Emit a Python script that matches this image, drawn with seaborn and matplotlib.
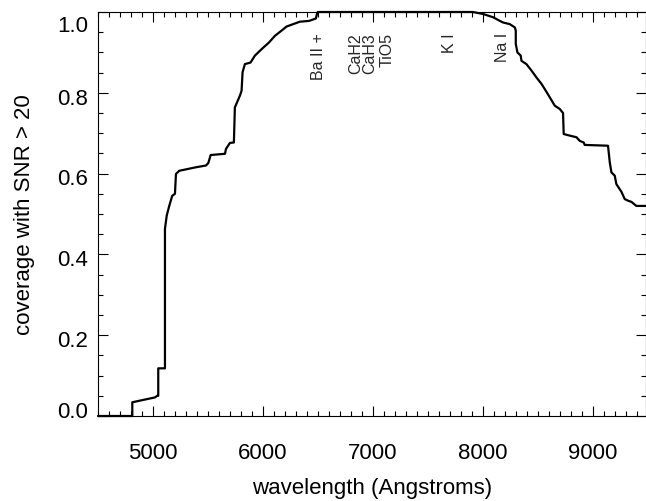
import matplotlib
matplotlib.use("Agg")
import matplotlib.pyplot as plt
import matplotlib.transforms as mtransforms
from matplotlib.ticker import MultipleLocator
import pandas as pd
import seaborn as sns

# coverage curve (repeated x = vertical step)
wavelength = [4500, 4812, 4812, 5018, 5039, 5048, 5048, 5109, 5109, 5125,
              5148, 5175, 5200, 5209, 5239, 5397, 5482, 5503, 5525, 5655,
              5664, 5700, 5736, 5745, 5761, 5791, 5806, 5815, 5836, 5888,
              5927, 5988, 6057, 6109, 6170, 6215, 6336, 6421, 6482, 6494,
              6500, 7909, 8003, 8094, 8155, 8185, 8245, 8291, 8300, 8300,
              8315, 8345, 8352, 8397, 8443, 8488, 8534, 8564, 8609, 8655,
              8700, 8730, 8736, 8791, 8852, 8882, 8918, 8927, 9139, 9155,
              9170, 9200, 9215, 9261, 9291, 9321, 9352, 9397, 9480]
coverage = [0.0, 0.0, 0.034, 0.046, 0.050, 0.050, 0.118, 0.118, 0.463, 0.496,
            0.520, 0.545, 0.550, 0.599, 0.607, 0.616, 0.620, 0.626, 0.646, 0.649,
            0.661, 0.676, 0.677, 0.764, 0.774, 0.793, 0.805, 0.851, 0.871, 0.875,
            0.892, 0.908, 0.925, 0.941, 0.954, 0.964, 0.976, 0.978, 0.984, 0.998,
            1.0, 1.0, 0.995, 0.987, 0.978, 0.974, 0.970, 0.962, 0.954, 0.921,
            0.900, 0.892, 0.879, 0.871, 0.855, 0.838, 0.822, 0.809, 0.789, 0.768,
            0.760, 0.750, 0.698, 0.694, 0.690, 0.681, 0.677, 0.671, 0.669, 0.628,
            0.603, 0.595, 0.574, 0.555, 0.537, 0.533, 0.530, 0.520, 0.520]

# spectral features marked along the top
feature_names = ["Ba II +", "CaH2", "CaH3", "TiO5", "K I", "Na I"]
feature_waves = [6510, 6845, 6972, 7128, 7697, 8183]

sns.set_theme(style="ticks")
plt.rcParams["font.family"] = ["Liberation Sans", "DejaVu Sans"]

df = pd.DataFrame({"wavelength": wavelength, "coverage": coverage})

fig = plt.figure(figsize=(6.46, 5.02), dpi=100)
ax = fig.add_axes([98 / 646, 85 / 502, 547.5 / 646, 404 / 502])

sns.lineplot(data=df, x="wavelength", y="coverage", ax=ax, sort=False,
             estimator=None, color="black", linewidth=1.6, clip_on=False)

for name, w in zip(feature_names, feature_waves):
    ax.text(w, 0.95, name, rotation=90, ha="center", va="top", fontsize=11.5)

ax.set_xlim(4500, 9480)
ax.set_ylim(0, 1.0)
ax.xaxis.set_major_locator(MultipleLocator(1000))
ax.xaxis.set_minor_locator(MultipleLocator(100))
ax.yaxis.set_major_locator(MultipleLocator(0.2))
ax.yaxis.set_minor_locator(MultipleLocator(0.05))
ax.set_xticks([5000, 6000, 7000, 8000, 9000])
ax.set_yticks([0.0, 0.2, 0.4, 0.6, 0.8, 1.0])
ax.set_yticklabels(["0.0", "0.2", "0.4", "0.6", "0.8", "1.0"])

ax.tick_params(which="both", direction="in", top=True, right=True,
               color="black", width=0.8, labelsize=16, labelcolor="black")
ax.tick_params(which="major", length=7)
ax.tick_params(which="minor", length=3.6)
ax.tick_params(axis="x", which="major", pad=19)
ax.tick_params(axis="y", which="major", pad=7)
for s in ax.spines.values():
    s.set_color("black")
    s.set_linewidth(0.8)

# end labels are nudged inwards, the rest sit slightly below their ticks
shifts = [5, -2, -2, -2, -2, -8]
for lab, dy in zip(ax.get_yticklabels(), shifts):
    lab.set_transform(lab.get_transform() +
                      mtransforms.ScaledTranslation(0, dy / 72, fig.dpi_scale_trans))

ax.set_xlabel("wavelength (Angstroms)", fontsize=16, labelpad=10, color="black")
ax.set_ylabel("coverage with SNR > 20", fontsize=16, labelpad=16, color="black")

fig.savefig("out.png", dpi=100)
